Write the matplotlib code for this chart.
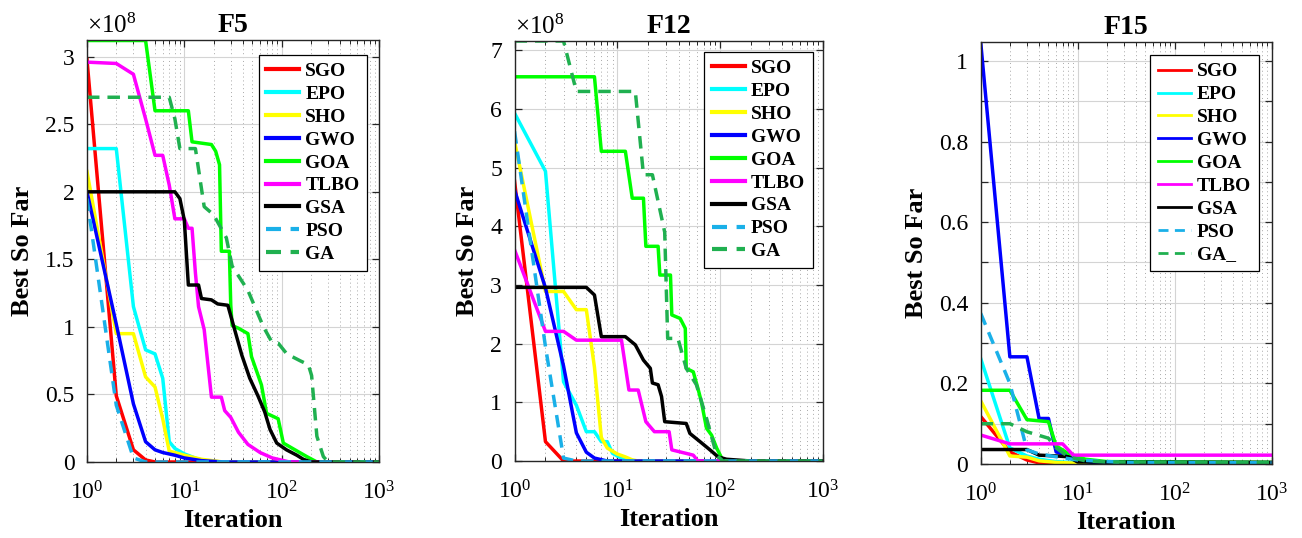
import matplotlib
matplotlib.use("Agg")
import matplotlib.pyplot as plt
from matplotlib.ticker import LogLocator, MultipleLocator, FuncFormatter, NullFormatter, LogFormatterSciNotation

plt.rcParams["font.family"] = ["Liberation Serif", "DejaVu Serif"]
plt.rcParams["mathtext.fontset"] = "custom"
plt.rcParams["mathtext.rm"] = "Liberation Serif"
plt.rcParams["mathtext.it"] = "Liberation Serif:italic"
plt.rcParams["mathtext.bf"] = "Liberation Serif:bold"

NAMES = ["SGO", "EPO", "SHO", "GWO", "GOA", "TLBO", "GSA", "PSO", "GA"]
COLORS = ["#ff0000", "#00ffff", "#ffff00", "#0000ff", "#00ff00",
          "#ff00ff", "#000000", "#1ab0e8", "#20b050"]
DASHED = [False] * 7 + [True] * 2

# F5, values in units of 1e8, as (iteration, best so far)
F5_SGO = [(1, 2.98), (2, 0.49), (3, 0.09), (4, 0.015), (5, 0.0), (1000, 0.0)]
F5_EPO = [(1, 2.32), (2, 2.32), (3, 1.15), (4, 0.83), (5, 0.80), (6, 0.62), (7, 0.15),
          (8, 0.10), (10, 0.06), (14, 0.02), (20, 0.0), (1000, 0.0)]
F5_SHO = [(1, 2.15), (2, 0.95), (3, 0.95), (4, 0.63), (5, 0.555), (6, 0.32), (7, 0.08),
          (8, 0.07), (10, 0.05), (15, 0.02), (25, 0.0), (1000, 0.0)]
F5_GWO = [(1, 2.0), (2, 1.02), (3, 0.43), (4, 0.15), (5, 0.09), (6, 0.07), (8, 0.05),
          (10, 0.03), (15, 0.01), (25, 0.0), (1000, 0.0)]
F5_GOA = [(1, 3.12), (4, 3.12), (5, 2.60), (11, 2.60), (12, 2.37), (19, 2.35), (21, 2.30),
          (23, 2.20), (24, 1.56), (29, 1.56), (30, 1.16), (31, 1.01), (36, 0.99), (45, 0.95),
          (49, 0.78), (62, 0.57), (70, 0.36), (92, 0.32), (104, 0.14), (137, 0.09),
          (181, 0.04), (230, 0.0), (1000, 0.0)]
F5_TLBO = [(1, 2.96), (2, 2.95), (3, 2.87), (4, 2.54), (5, 2.27), (6, 2.27), (7, 2.05),
           (8, 1.80), (10, 1.80), (11, 1.73), (12, 1.73), (13, 1.40), (14, 1.15), (16, 0.98),
           (19, 0.48), (24, 0.48), (26, 0.38), (30, 0.33), (36, 0.22), (45, 0.13),
           (60, 0.07), (80, 0.03), (120, 0.0), (1000, 0.0)]
F5_GSA = [(1, 2.0), (8, 2.0), (9, 1.95), (10, 1.79), (11, 1.31), (14, 1.31), (15, 1.21),
          (19, 1.20), (22, 1.17), (28, 1.16), (32, 1.01), (39, 0.79), (47, 0.62), (57, 0.49),
          (67, 0.37), (76, 0.24), (89, 0.14), (112, 0.09), (143, 0.05), (167, 0.02),
          (200, 0.0), (1000, 0.0)]
F5_PSO = [(1, 1.95), (2, 0.42), (3, 0.03), (4, 0.0), (1000, 0.0)]
F5_GA = [(1, 2.70), (7, 2.70), (8, 2.54), (9, 2.32), (13, 2.32), (16, 1.89), (20, 1.83),
         (27, 1.66), (31, 1.45), (45, 1.27), (65, 1.0), (79, 0.89), (92, 0.88), (113, 0.80),
         (154, 0.75), (188, 0.72), (203, 0.64), (230, 0.19), (268, 0.04), (300, 0.0),
         (1000, 0.0)]

# F12, values in units of 1e8
F12_SGO = [(1, 4.77), (2, 0.33), (3, 0.0), (1000, 0.0)]
F12_EPO = [(1, 5.93), (2, 4.94), (3, 1.35), (4, 0.95), (5, 0.50), (6, 0.50), (7, 0.33),
           (8, 0.33), (9, 0.13), (11, 0.05), (15, 0.0), (1000, 0.0)]
F12_SHO = [(1, 5.45), (2, 2.89), (3, 2.89), (4, 2.58), (5, 2.58), (6, 1.6), (7, 0.40),
           (8, 0.22), (10, 0.12), (12, 0.07), (14, 0.02), (16, 0.0), (1000, 0.0)]
F12_GWO = [(1, 4.62), (2, 2.95), (3, 1.62), (4, 0.48), (5, 0.15), (6, 0.05), (8, 0.0),
           (1000, 0.0)]
F12_GOA = [(1, 6.55), (6, 6.55), (7, 5.28), (12, 5.28), (14, 4.48), (18, 4.48), (19, 3.66),
           (25, 3.66), (26, 3.17), (33, 3.17), (34, 2.49), (41, 2.43), (46, 2.26), (47, 1.58),
           (55, 1.52), (61, 1.24), (66, 1.01), (74, 0.56), (83, 0.44), (93, 0.22),
           (104, 0.05), (115, 0.0), (1000, 0.0)]
F12_TLBO = [(1, 3.60), (2, 2.21), (3, 2.21), (4, 2.06), (11, 2.06), (13, 1.21), (16, 1.21),
            (19, 0.67), (23, 0.50), (32, 0.50), (34, 0.19), (55, 0.10), (61, 0.0), (1000, 0.0)]
F12_GSA = [(1, 2.96), (5, 2.96), (6, 2.83), (7, 2.12), (12, 2.12), (15, 1.98), (18, 1.72),
           (21, 1.58), (22, 1.33), (25, 1.30), (27, 1.10), (29, 0.67), (47, 0.64), (51, 0.47),
           (64, 0.33), (80, 0.19), (96, 0.07), (116, 0.03), (200, 0.0), (1000, 0.0)]
F12_PSO = [(1, 5.62), (2, 1.95), (3, 0.05), (4, 0.0), (1000, 0.0)]
F12_GA = [(1, 7.16), (3, 7.16), (4, 6.30), (15, 6.30), (18, 4.88), (22, 4.88), (29, 3.9),
          (31, 2.09), (39, 2.09), (47, 1.58), (59, 1.30), (74, 0.73), (93, 0.10), (107, 0.0),
          (1000, 0.0)]

# F15
F15_SGO = [(1, 0.118), (2, 0.03), (3, 0.01), (4, 0.003), (6, 0.0005), (1000, 0.0003)]
F15_EPO = [(1, 0.262), (2, 0.04), (3, 0.02), (4, 0.012), (6, 0.006), (10, 0.003), (1000, 0.003)]
F15_SHO = [(1, 0.157), (2, 0.02), (3, 0.017), (4, 0.008), (6, 0.004), (10, 0.002), (1000, 0.002)]
F15_GWO = [(1, 1.047), (2, 0.266), (3, 0.266), (4, 0.113), (5, 0.113), (6, 0.03), (8, 0.02),
           (10, 0.01), (15, 0.003), (1000, 0.003)]
F15_GOA = [(1, 0.183), (2, 0.183), (3, 0.11), (5, 0.105), (6, 0.045), (8, 0.026), (12, 0.012),
           (20, 0.006), (1000, 0.004)]
F15_TLBO = [(1, 0.072), (2, 0.05), (7, 0.05), (9, 0.022), (1000, 0.022)]
F15_GSA = [(1, 0.036), (3, 0.036), (4, 0.022), (6, 0.02), (8, 0.018), (10, 0.005), (1000, 0.004)]
F15_PSO = [(1, 0.374), (2, 0.20), (3, 0.035), (4, 0.025), (6, 0.018), (10, 0.01), (30, 0.004),
           (1000, 0.003)]
F15_GA = [(1, 0.100), (2, 0.100), (3, 0.08), (5, 0.064), (6, 0.04), (8, 0.018), (12, 0.008),
          (20, 0.005), (1000, 0.004)]

F5_SERIES = [F5_SGO, F5_EPO, F5_SHO, F5_GWO, F5_GOA, F5_TLBO, F5_GSA, F5_PSO, F5_GA]
F12_SERIES = [F12_SGO, F12_EPO, F12_SHO, F12_GWO, F12_GOA, F12_TLBO, F12_GSA, F12_PSO, F12_GA]
F15_SERIES = [F15_SGO, F15_EPO, F15_SHO, F15_GWO, F15_GOA, F15_TLBO, F15_GSA, F15_PSO, F15_GA]

W, H = 1302, 538
fig = plt.figure(figsize=(W / 100, H / 100), dpi=100)

panels = [
    # title, series, ylim top, ytick step, label every n-th, offset text, rect, legend anchor, legend names
    ("F5", F5_SERIES, 3.124, 0.5, 1, True, [0.0668, 0.1413, 0.2243, 0.7844], (0.96, 0.965), NAMES),
    ("F12", F12_SERIES, 7.16, 1.0, 1, True, [0.3952, 0.1431, 0.2366, 0.7807], (0.968, 0.974), NAMES),
    ("F15", F15_SERIES, 1.047, 0.1, 2, False, [0.7532, 0.1375, 0.2235, 0.7844], (0.956, 0.969),
     NAMES[:-1] + ["GA_"]),
]

axis_col = "#262626"

for title, series, ytop, ystep, every, offset, rect, anchor, labels in panels:
    ax = fig.add_axes(rect)
    for pts, name, col, dashed in zip(series, labels, COLORS, DASHED):
        xs = [p[0] for p in pts]
        ys = [p[1] for p in pts]
        if dashed:
            ax.plot(xs, ys, color=col, lw=2.5, ls="--", dashes=(3.6, 2.3), label=name)
        else:
            ax.plot(xs, ys, color=col, lw=2.5, label=name)

    ax.set_xscale("log")
    ax.set_xlim(1, 1000)
    ax.set_ylim(0, ytop)
    ax.xaxis.set_major_locator(LogLocator(base=10, numticks=10))
    ax.xaxis.set_minor_locator(LogLocator(base=10, subs=range(2, 10), numticks=10))
    ax.xaxis.set_minor_formatter(NullFormatter())
    ax.xaxis.set_major_formatter(LogFormatterSciNotation())
    ax.yaxis.set_major_locator(MultipleLocator(ystep))

    def fmt(v, pos, step=ystep, every=every):
        k = int(round(v / step))
        if k % every:
            return ""
        return "%g" % round(v, 6)

    ax.yaxis.set_major_formatter(FuncFormatter(fmt))

    ax.set_axisbelow(True)
    ax.grid(True, which="major", color="#d4d4d4", lw=0.8, ls="-")
    ax.grid(True, which="minor", axis="x", color="#a8a8a8", lw=0.7, ls=(0, (1, 3)))

    ax.tick_params(which="both", direction="in", top=True, right=True, colors=axis_col,
                   labelcolor="black", labelsize=17)
    ax.tick_params(which="major", length=5, width=0.9)
    ax.tick_params(which="minor", length=3, width=0.7)
    ax.tick_params(axis="y", which="major", pad=9)
    ax.tick_params(axis="x", which="major", pad=14)
    for sp in ax.spines.values():
        sp.set_color(axis_col)
        sp.set_linewidth(1.0)

    ax.set_title(title, fontsize=20, fontweight="bold", pad=6)
    ax.set_xlabel("Iteration", fontsize=19, fontweight="bold", labelpad=3)
    ax.set_ylabel("Best So Far", fontsize=19, fontweight="bold", labelpad=8)

    if offset:
        ax.text(0.0, 1.004, r"$\times10^{8}$", transform=ax.transAxes, ha="left", va="bottom",
                fontsize=18)

    leg = ax.legend(loc="upper right", bbox_to_anchor=anchor, borderaxespad=0,
                    prop={"weight": "bold", "size": 14}, frameon=True, fancybox=False,
                    edgecolor="black", framealpha=1, labelspacing=0.27, handlelength=1.7,
                    handletextpad=0.3, borderpad=0.4)
    leg.get_frame().set_linewidth(0.9)
    lw_leg = 2.0 if title == "F15" else 3.0
    for ln in leg.get_lines():
        ln.set_linewidth(lw_leg)

fig.savefig("out.png", dpi=100)
